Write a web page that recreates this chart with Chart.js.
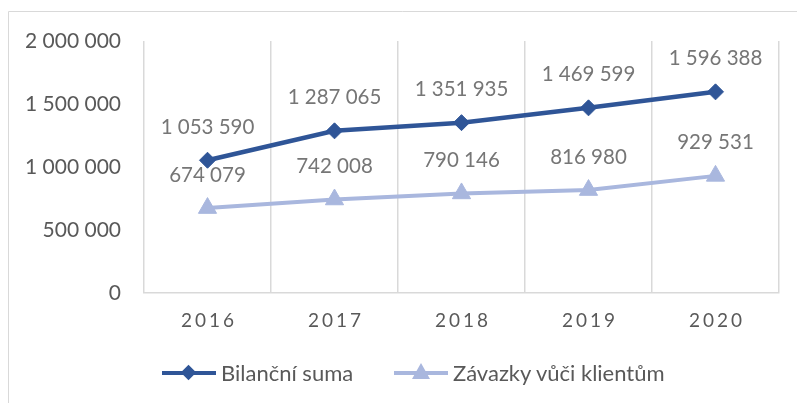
<!DOCTYPE html>
<html>
<head>
<meta charset="utf-8">
<script src="https://cdn.jsdelivr.net/npm/chart.js@4/dist/chart.umd.min.js"></script>
<style>
    body { margin: 0; background: #fff; font-family: Lato, sans-serif; }
    #wrap { position: relative; width: 797px; height: 403px; overflow: hidden; }
    .legend-item { position: absolute; top: 360px; height: 26px; display: flex; align-items: center; }
    .legend-line { position: relative; width: 54px; height: 4px; margin-right: 5px; }
    .legend-text { font-size: 22px; color: #595959; line-height: 26px; }
    .diamond { position: absolute; left: 21px; top: -4px; width: 11px; height: 11px; transform: rotate(45deg); }
    .triangle { position: absolute; left: 18px; top: -8px; width: 0; height: 0;
        border-left: 9px solid transparent; border-right: 9px solid transparent; }
</style>
</head>
<body>
<div id="wrap">
    <canvas id="chart"></canvas>
    <div class="legend-item" style="left:162px">
        <div class="legend-line" style="background:#2F5597"><div class="diamond" style="background:#2F5597"></div></div>
        <span class="legend-text">Bilanční suma</span>
    </div>
    <div class="legend-item" style="left:394px">
        <div class="legend-line" style="background:#A9B7DE"><div class="triangle" style="border-bottom:16px solid #A9B7DE"></div></div>
        <span class="legend-text">Závazky vůči klientům</span>
    </div>
</div>
<script>
// Data
const years = ['2016', '2017', '2018', '2019', '2020'];
const bilancniSuma = [1053590, 1287065, 1351935, 1469599, 1596388];
const zavazky = [674079, 742008, 790146, 816980, 929531];
const yTicks = [0, 500000, 1000000, 1500000, 2000000];

const darkBlue = '#2F5597';
const lightBlue = '#A9B7DE';

function fmt(v) {
    return String(v).replace(/\B(?=(\d{3})+(?!\d))/g, ' ');
}

// Frame, x labels and value labels
const extras = {
    id: 'extras',
    beforeDraw(chart) {
        const ctx = chart.ctx;
        ctx.save();
        ctx.strokeStyle = '#d9d9d9';
        ctx.lineWidth = 1;
        ctx.beginPath();
        ctx.moveTo(8.5, 403);
        ctx.lineTo(8.5, 11.5);
        ctx.lineTo(797, 11.5);
        ctx.stroke();
        ctx.restore();
    },
    afterDraw(chart) {
        const ctx = chart.ctx;
        const x = chart.scales.x;
        const area = chart.chartArea;
        ctx.save();
        ctx.font = '19px Lato';
        ctx.fillStyle = '#595959';
        ctx.textAlign = 'center';
        ctx.textBaseline = 'middle';
        ctx.letterSpacing = '3px';
        years.forEach((y, i) => {
            ctx.fillText(y, x.getPixelForValue(i) + 1.5, area.bottom + 28);
        });
        ctx.letterSpacing = '0px';
        ctx.font = '20.5px Lato';
        ctx.fillStyle = '#767676';
        chart.data.datasets.forEach((ds, di) => {
            const meta = chart.getDatasetMeta(di);
            meta.data.forEach((pt, i) => {
                ctx.fillText(fmt(ds.data[i]), pt.x, pt.y - 33);
            });
        });
        ctx.restore();
    }
};

new Chart(document.getElementById('chart'), {
    type: 'line',
    data: {
        labels: years,
        datasets: [{
            label: 'Bilanční suma',
            data: bilancniSuma,
            borderColor: darkBlue,
            backgroundColor: darkBlue,
            borderWidth: 4.5,
            pointStyle: 'rectRot',
            pointRadius: 8,
            pointBorderWidth: 1,
            tension: 0
        }, {
            label: 'Závazky vůči klientům',
            data: zavazky,
            borderColor: lightBlue,
            backgroundColor: lightBlue,
            borderWidth: 4,
            pointStyle: 'triangle',
            pointRadius: 10.5,
            pointBorderWidth: 1,
            tension: 0
        }]
    },
    options: {
        responsive: true,
        maintainAspectRatio: false,
        animation: false,
        layout: { padding: { top: 41, right: 18, left: 0, bottom: 0 } },
        plugins: {
            legend: { display: false },
            tooltip: { enabled: false }
        },
        scales: {
            x: {
                offset: true,
                grid: { offset: true, color: '#d9d9d9', lineWidth: 1.5, drawTicks: false },
                border: { display: true, color: '#d9d9d9', width: 1.5 },
                ticks: { display: false },
                afterFit: axis => { axis.height = 110; }
            },
            y: {
                min: 0,
                max: 2000000,
                afterBuildTicks: axis => { axis.ticks = yTicks.map(v => ({ value: v })); },
                grid: { display: false, drawTicks: false },
                border: { display: false },
                ticks: {
                    padding: 23,
                    color: '#595959',
                    font: { family: 'Lato', size: 21 },
                    callback: v => fmt(v)
                },
                afterFit: axis => { axis.width = 144; }
            }
        }
    },
    plugins: [extras]
});
</script>
</body>
</html>
